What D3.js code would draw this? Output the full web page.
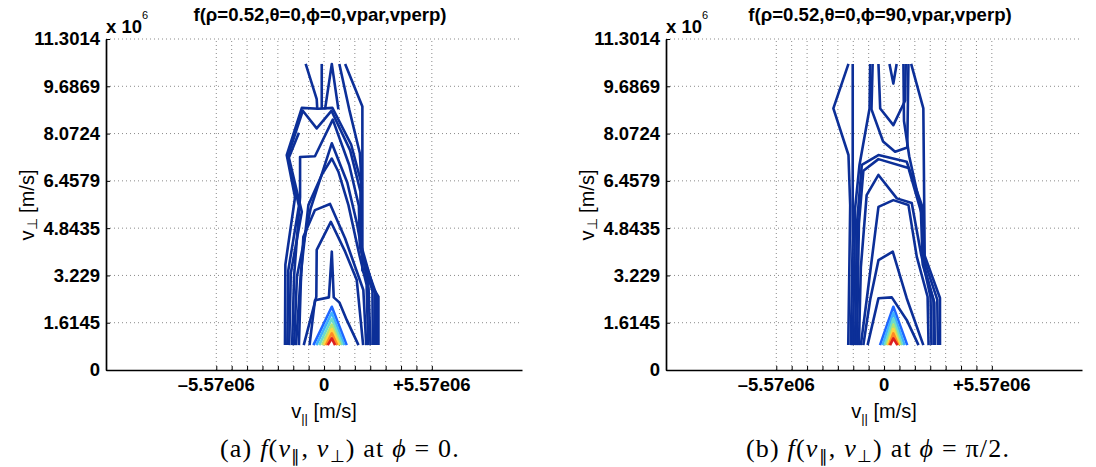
<!DOCTYPE html>
<html><head><meta charset="utf-8">
<script src="https://cdn.jsdelivr.net/npm/d3@7"></script>
<style>
html,body{margin:0;padding:0;background:#fff;}
svg{display:block;}
</style></head>
<body>
<svg id="chart" width="1096" height="467"></svg>
<script>
// ---- data (velocities in units of 1e6 m/s) ----
const yTicks = [0, 1.6145, 3.229, 4.8435, 6.4579, 8.0724, 9.6869, 11.3014];
const yTickLabels = ["0", "1.6145", "3.229", "4.8435", "6.4579", "8.0724", "9.6869", "11.3014"];
const xTicks = [-5.57, -4.7743, -3.9786, -3.1829, -2.3871, -1.5914, -0.7957, 0,
                0.7957, 1.5914, 2.3871, 3.1829, 3.9786, 4.7743, 5.57];
const xLabelTicks = [-5.57, 0, 5.57];
const xTickLabels = ["\u20135.57e06", "0", "+5.57e06"];
const xDomain = [-11.27, 10.23];
const yDomain = [0, 11.3014];

const titles = ["f(\u03c1=0.52,\u03b8=0,\u03d5=0,vpar,vperp)", "f(\u03c1=0.52,\u03b8=0,\u03d5=90,vpar,vperp)"];
const captionTags = ["(a)", "(b)"];
const captionPhi = ["0.", "\u03c0/2."];

// contour levels: 0 = lowest (dark blue) ... 7 = highest (red)
const levelColors = ["#0c2f98", "#1f66ff", "#3fb0ff", "#6cdccc", "#b2e474", "#ffd640", "#ff8a24", "#de1f1f"];

// panel (a): phi = 0
const contoursA = [
  {level: 0, pts: [[-0.95,10.45],[-0.38,9.25],[-0.35,8.9]]},
  {level: 0, pts: [[-0.12,10.45],[-0.12,8.9]]},
  {level: 0, pts: [[0.05,8.9],[0.40,10.45],[0.74,8.9]]},
  {level: 0, pts: [[0.79,10.45],[1.3,8.9],[1.85,7.4],[1.95,6.2]]},
  {level: 0, pts: [[1.09,10.45],[1.98,9.0],[1.98,3.4],[2.81,2.5],[2.81,0.85]]},
  {level: 0, pts: [[-2.02,0.85],[-2.0,3.6],[-1.5,5.9],[-1.93,7.34],[-1.15,8.95],[-0.3,8.92],[0.43,8.95],[1.4,7.7],[1.92,6.4],[1.95,4.0],[2.72,2.55],[2.74,0.85]]},
  {level: 0, pts: [[-1.9,0.85],[-1.85,3.4],[-1.3,5.6],[-1.87,7.3],[-1.1,8.85],[-0.38,8.25],[0.38,8.85],[1.35,7.5],[1.88,6.1],[1.9,4.3],[2.62,2.62],[2.64,0.85]]},
  {level: 0, pts: [[-1.8,0.85],[-1.72,3.3],[-1.15,5.4],[-1.82,7.25],[-1.3,8.1]]},
  {level: 0, pts: [[-1.65,0.85],[-1.55,3.2],[-1.24,5.9],[-1.24,7.27],[-0.47,7.3],[0.45,8.55],[1.3,7.0],[1.8,5.6],[1.85,4.2],[2.5,2.7],[2.52,0.85]]},
  {level: 0, pts: [[-1.55,0.85],[-1.4,3.2],[-0.7,5.5],[0.4,7.74],[1.2,6.4],[1.7,5.0],[2.3,2.8],[2.4,0.85]]},
  {level: 0, pts: [[-1.45,0.85],[-1.2,3.3],[-0.81,5.63],[-0.12,6.66],[0.4,7.22],[0.74,6.77],[1.26,5.63],[1.8,4.0],[2.2,2.9],[2.28,0.85]]},
  {level: 0, pts: [[-1.3,0.85],[-1.2,3.0],[-1.07,4.55],[-0.47,5.46],[0.31,5.67],[1.09,4.49],[2.03,2.73],[2.18,0.85]]},
  {level: 0, pts: [[-1.05,0.85],[-0.4,2.5],[-0.38,4.1],[0.35,5.06],[1.09,4.04],[1.69,3.07],[2.02,0.85]]},
  {level: 0, pts: [[-0.75,0.85],[-0.47,2.38],[0.25,2.48],[0.4,4.04],[0.5,2.48],[0.8,2.3],[1.17,1.71],[1.78,0.85]]},
  {level: 1, pts: [[-0.55,0.85],[0.4,2.16],[1.17,0.85]]},
  {level: 2, pts: [[-0.4,0.85],[0.4,1.95],[1.05,0.85]]},
  {level: 3, pts: [[-0.25,0.85],[0.4,1.75],[0.95,0.85]]},
  {level: 4, pts: [[-0.1,0.85],[0.4,1.55],[0.85,0.85]]},
  {level: 5, pts: [[0.0,0.85],[0.4,1.4],[0.78,0.85]]},
  {level: 6, pts: [[0.1,0.85],[0.4,1.25],[0.68,0.85]]},
  {level: 7, pts: [[0.19,0.85],[0.4,1.08],[0.57,0.85]]}
];

// panel (b): phi = pi/2
const contoursB = [
  {level: 0, pts: [[-1.84,10.45],[-2.62,8.93],[-1.84,7.34],[-1.75,5.63],[-1.85,0.85]]},
  {level: 0, pts: [[-1.62,10.45],[-1.62,4.5],[-1.72,0.85]]},
  {level: 0, pts: [[-0.72,10.45],[-0.75,8.93],[-1.27,7.0],[-1.5,5.5],[-1.55,3.0],[-1.62,0.85]]},
  {level: 0, pts: [[-0.59,10.45],[-0.65,8.9],[-0.05,7.8],[0.57,7.45],[1.2,7.6],[1.26,10.45]]},
  {level: 0, pts: [[-0.29,10.45],[-0.2,8.93],[0.48,8.36],[1.09,9.2],[1.12,10.45]]},
  {level: 0, pts: [[0.28,10.45],[0.48,9.78],[0.65,10.45]]},
  {level: 0, pts: [[1.0,10.45],[1.03,8.5],[1.3,7.3],[1.9,5.5],[2.0,3.6],[2.6,2.3],[2.62,0.85]]},
  {level: 0, pts: [[1.4,10.45],[2.03,8.93],[2.1,3.9],[2.89,2.46],[2.89,0.85]]},
  {level: 0, pts: [[-1.5,0.85],[-1.4,5.0],[-1.15,7.0],[-0.29,7.34],[1.17,7.11],[1.95,5.63],[2.05,3.8],[2.75,2.4],[2.78,0.85]]},
  {level: 0, pts: [[-1.4,0.85],[-1.3,5.0],[-1.07,6.8],[-0.29,7.2],[1.26,6.9],[2.0,5.2],[2.05,3.6],[2.55,2.4],[2.58,0.85]]},
  {level: 0, pts: [[-1.3,0.85],[-1.2,3.5],[-0.9,5.97],[-0.29,6.66],[0.66,5.86],[1.43,5.7],[1.9,4.0],[2.4,2.5],[2.45,0.85]]},
  {level: 0, pts: [[-1.2,0.85],[-0.9,2.39],[-0.29,5.57],[0.48,5.8],[1.26,5.63],[1.69,3.87],[2.25,2.5],[2.3,0.85]]},
  {level: 0, pts: [[-1.07,0.85],[-0.72,2.39],[-0.29,3.75],[0.45,4.04],[1.17,2.45],[2.03,0.85]]},
  {level: 0, pts: [[-0.85,0.85],[-0.29,2.45],[0.4,2.48],[1.17,1.71],[1.78,0.85]]},
  {level: 1, pts: [[-0.21,0.85],[0.48,2.16],[1.2,0.85]]},
  {level: 2, pts: [[-0.08,0.85],[0.48,1.95],[1.06,0.85]]},
  {level: 3, pts: [[0.04,0.85],[0.48,1.75],[0.94,0.85]]},
  {level: 4, pts: [[0.13,0.85],[0.48,1.55],[0.85,0.85]]},
  {level: 5, pts: [[0.2,0.85],[0.48,1.4],[0.78,0.85]]},
  {level: 6, pts: [[0.26,0.85],[0.48,1.25],[0.73,0.85]]},
  {level: 7, pts: [[0.31,0.85],[0.48,1.08],[0.69,0.85]]}
];

const panels = [
  {offset: 0, contours: contoursA, capX: 340, capW: 245},
  {offset: 560, contours: contoursB, capX: 318, capW: 280}
];

const svg = d3.select("#chart");
const x = d3.scaleLinear().domain(xDomain).range([106, 522]);
const y = d3.scaleLinear().domain(yDomain).range([370, 39]);
const sans = "'Liberation Sans', Arial, Helvetica, sans-serif";
const serif = "'Liberation Serif', 'Times New Roman', serif";

panels.forEach((p, i) => {
  const g = svg.append("g").attr("transform", `translate(${p.offset},0)`);

  // dotted grid
  const grid = g.append("g").attr("stroke", "#8a8a8a").attr("stroke-width", 1).attr("stroke-dasharray", "1,3");
  grid.selectAll("line.h").data(yTicks.filter(d => d > 0)).join("line")
    .attr("x1", x(xDomain[0])).attr("x2", x(xDomain[1]))
    .attr("y1", d => y(d)).attr("y2", d => y(d));
  grid.selectAll("line.v").data(xTicks).join("line")
    .attr("x1", d => x(d)).attr("x2", d => x(d))
    .attr("y1", y(0)).attr("y2", y(yDomain[1]));

  // contours
  const line = d3.line().x(d => x(d[0])).y(d => y(d[1]));
  g.append("g").selectAll("path").data(p.contours).join("path")
    .attr("d", d => line(d.pts))
    .attr("fill", "none")
    .attr("stroke", d => levelColors[d.level])
    .attr("stroke-width", 2.6)
    .attr("stroke-linejoin", "round")
    .attr("stroke-linecap", "butt");

  // axes
  const yAxis = d3.axisLeft(y).tickValues(yTicks).tickFormat((d, k) => yTickLabels[k]).tickSizeInner(-4).tickSizeOuter(0).tickPadding(6);
  const ya = g.append("g").attr("transform", `translate(${x(xDomain[0])},0)`).call(yAxis);
  const xAxis = d3.axisBottom(x).tickValues(xTicks).tickFormat(() => "").tickSizeInner(-4).tickSizeOuter(0);
  const xa = g.append("g").attr("transform", `translate(0,${y(0)})`).call(xAxis);
  [ya, xa].forEach(a => {
    a.select(".domain").attr("stroke", "#000").attr("stroke-width", 1.7);
    a.selectAll(".tick line").attr("stroke", "#000").attr("stroke-width", 1);
  });
  ya.selectAll("text").attr("font-family", sans).attr("font-weight", "bold").attr("font-size", 18.5).attr("fill", "#000");
  g.append("g").selectAll("text").data(xLabelTicks).join("text")
    .attr("x", d => x(d)).attr("y", 391)
    .attr("text-anchor", "middle")
    .attr("font-family", sans).attr("font-weight", "bold").attr("font-size", 18.5)
    .text((d, k) => xTickLabels[k]);

  // x 10^6
  const ex = g.append("text").attr("x", 106).attr("y", 33).attr("font-family", sans).attr("font-weight", "bold").attr("font-size", 18.5);
  ex.append("tspan").text("x 10");
  ex.append("tspan").attr("dy", -14).attr("font-size", 11).attr("font-weight", "normal").text("6");

  // title
  g.append("text").attr("x", 320).attr("y", 21).attr("text-anchor", "middle")
    .attr("font-family", sans).attr("font-weight", "bold").attr("font-size", 18.6).text(titles[i]);

  // y label
  const yl = g.append("text").attr("transform", "translate(34,205) rotate(-90)").attr("text-anchor", "middle")
    .attr("font-family", sans).attr("font-size", 20);
  yl.append("tspan").text("v");
  yl.append("tspan").attr("dy", 3).attr("font-size", 14).text("\u22a5");
  yl.append("tspan").attr("dy", -3).text(" [m/s]");

  // x label
  const xl = g.append("text").attr("x", 324).attr("y", 418).attr("text-anchor", "middle")
    .attr("font-family", sans).attr("font-size", 20);
  xl.append("tspan").text("v");
  xl.append("tspan").attr("dy", 5).attr("font-size", 13).text("||");
  xl.append("tspan").attr("dy", -5).text(" [m/s]");

  // caption
  const cap = g.append("text").attr("x", p.capX).attr("y", 457).attr("text-anchor", "middle")
    .attr("font-family", serif).attr("font-size", 26);
  cap.append("tspan").text(captionTags[i] + " ");
  cap.append("tspan").attr("font-style", "italic").text("f");
  cap.append("tspan").text("(");
  cap.append("tspan").attr("font-style", "italic").text("v");
  cap.append("tspan").attr("dy", 5).attr("font-size", 17).text("\u2225");
  cap.append("tspan").attr("dy", -5).text(", ");
  cap.append("tspan").attr("font-style", "italic").text("v");
  cap.append("tspan").attr("dy", 5).attr("font-size", 17).text("\u22a5");
  cap.append("tspan").attr("dy", -5).text(") at ");
  cap.append("tspan").attr("font-style", "italic").text("\u03d5");
  cap.append("tspan").text(" = " + captionPhi[i]);
  // small extra spacing so the caption spans the same width as in the figure
  const w = cap.node().getComputedTextLength();
  const n = cap.text().length;
  cap.attr("letter-spacing", Math.max(0, Math.min(1.2, (p.capW - w) / n)));
});
</script>
</body></html>
